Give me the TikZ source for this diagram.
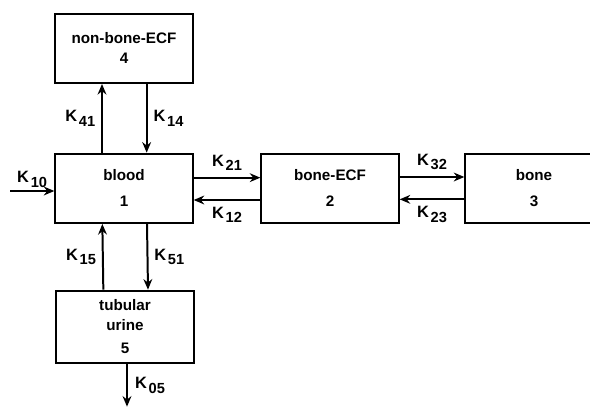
\documentclass[tikz,border=0pt]{standalone}
\usepackage{fontspec}
\setmainfont{Liberation Sans}
\usepackage{tikz}
\usetikzlibrary{arrows.meta}
\newcommand{\krate}[1]{K\kern1.5pt\raisebox{-0.55ex}{\fontsize{12.5}{14}\selectfont #1}}

\begin{document}
\begin{tikzpicture}[
    compart/.style={rectangle, draw=black, line width=1.7pt, minimum width=4.12cm,
                    minimum height=2.08cm, align=center, font=\fontsize{13}{17}\selectfont\bfseries},
    flux/.style={-{Stealth[length=9pt,width=7.5pt]}, line width=1.7pt},
    rate/.style={font=\fontsize{14}{16}\selectfont\bfseries, inner sep=2pt}
]
    \useasboundingbox (0,0) rectangle (17.7,-12.18);
    \clip (0,0) rectangle (17.7,-12.18);

    % Compartments
    \node[compart] (nonbone) at (3.72,-1.45) {non-bone-ECF\\ 4};
    \node[compart] (blood) at (3.72,-5.65) {blood\\[5pt] 1};
    \node[compart] (boneecf) at (9.9,-5.65) {bone-ECF\\[5pt] 2};
    \node[compart] (bone) at (16.02,-5.65) {bone\\[5pt] 3};
    \node[compart, minimum height=2.16cm] (urine) at (3.75,-9.8) {tubular\\ urine\\[3pt] 5};

    % Free ends
    \coordinate (kin) at (0.3,-5.73);
    \coordinate (kout) at (3.81,-12.2);

    % Fluxes
    \draw[flux] (kin) -- node[rate, above] {\krate{10}} (kin -| blood.west);
    \draw[flux] ([xshift=-0.66cm]blood.north) -- node[rate, left=3pt] {\krate{41}} ([xshift=-0.66cm]nonbone.south);
    \draw[flux] ([xshift=0.68cm]nonbone.south) -- node[rate, right=3pt] {\krate{14}} ([xshift=0.68cm]blood.north);
    \draw[flux] ([yshift=0.32cm]blood.east) -- node[rate, above=3pt] {\krate{21}} ([yshift=0.32cm]boneecf.west);
    \draw[flux] ([yshift=-0.35cm]boneecf.west) -- node[rate, below=3pt] {\krate{12}} ([yshift=-0.35cm]blood.east);
    \draw[flux] ([yshift=0.34cm]boneecf.east) -- node[rate, above=3pt] {\krate{32}} ([yshift=0.34cm]bone.west);
    \draw[flux] ([yshift=-0.33cm]bone.west) -- node[rate, below=3pt] {\krate{23}} ([yshift=-0.33cm]boneecf.east);
    \draw[flux] ([xshift=-0.65cm]urine.north) -- node[rate, left=3pt] {\krate{15}} ([xshift=-0.65cm]blood.south);
    \draw[flux] ([xshift=0.69cm]blood.south) -- node[rate, right=3pt] {\krate{51}} ([xshift=0.69cm]urine.north);
    \draw[flux] (urine.south -| kout) -- node[rate, right=4pt] {\krate{05}} (kout);
\end{tikzpicture}
\end{document}
